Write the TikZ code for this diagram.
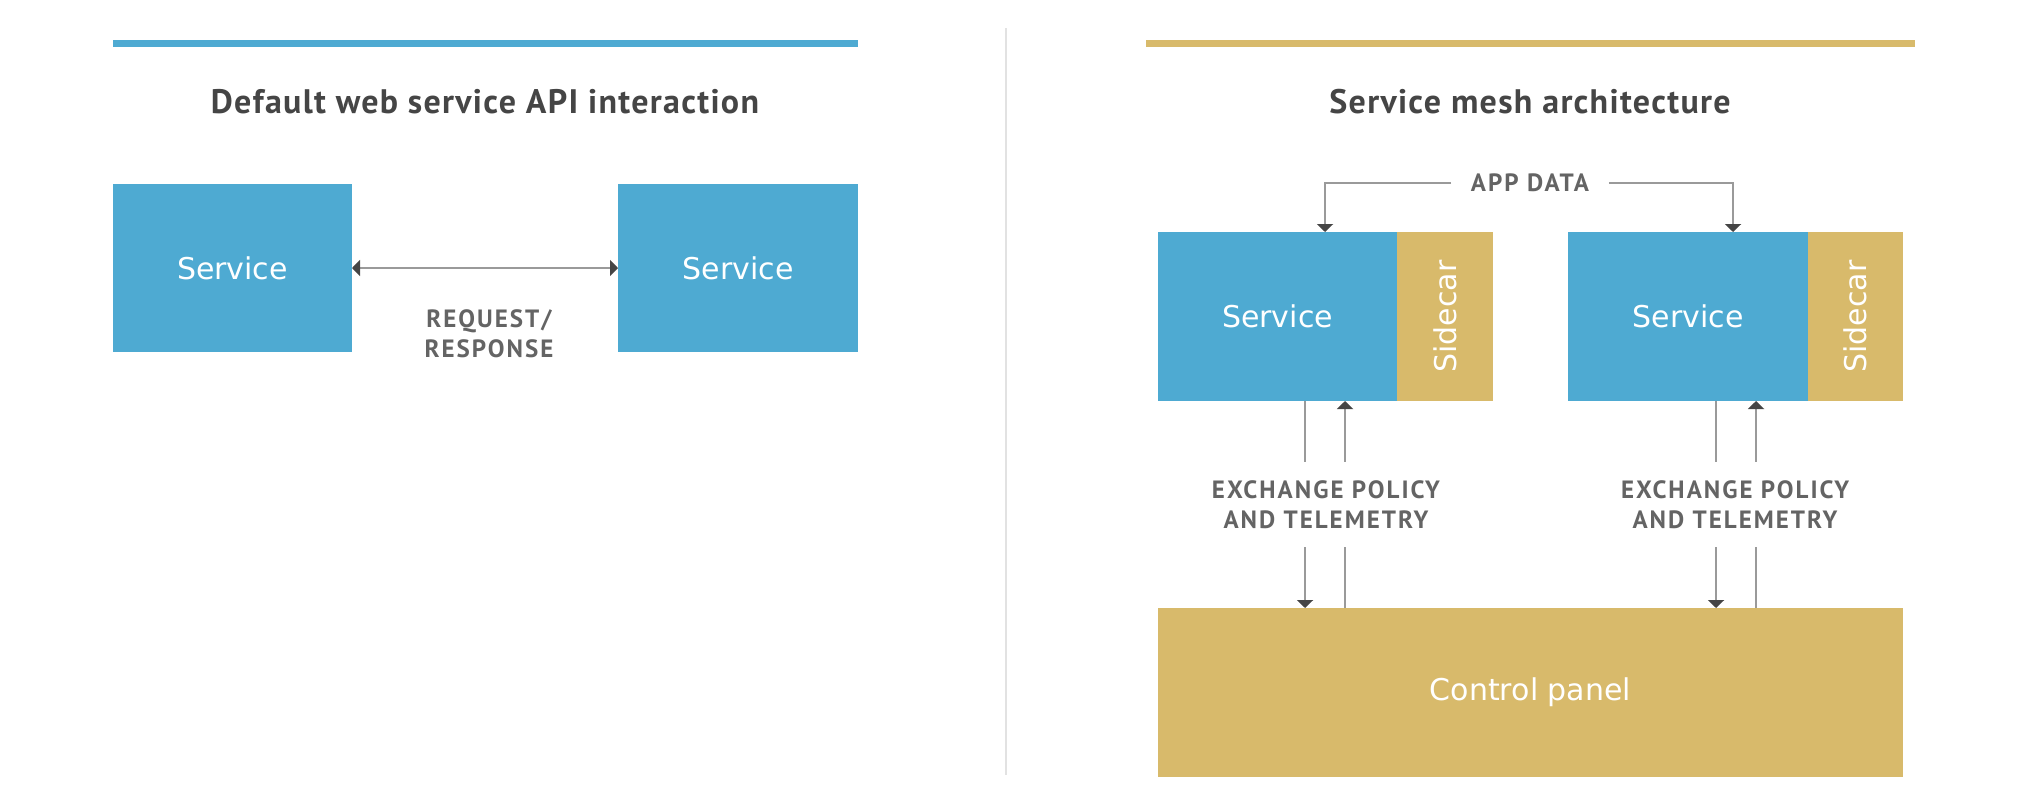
\documentclass[tikz,border=0pt]{standalone}
\usepackage{fontspec}
\usetikzlibrary{arrows.meta,calc}
\setmainfont{DejaVu Sans}
\newfontfamily\ttlfont[LetterSpace=3.8]{PT Sans}
\newfontfamily\lblfont[LetterSpace=8]{PT Sans}
\newfontfamily\boxfont{DejaVu Sans}
\definecolor{svcblue}{HTML}{4EAAD2}
\definecolor{gold}{HTML}{D8BA6B}
\definecolor{ttlgray}{HTML}{454545}
\definecolor{lblgray}{HTML}{646464}
\definecolor{linegray}{HTML}{9A9A9A}
\definecolor{tipgray}{HTML}{454545}
\definecolor{divgray}{HTML}{E2E2E2}
\tikzset{
  svc/.style={fill=svcblue, text=white, inner sep=0pt, outer sep=0pt,
    font=\boxfont\fontsize{15pt}{18pt}\selectfont},
  side/.style={fill=gold, text=white, inner sep=0pt, outer sep=0pt,
    font=\boxfont\fontsize{15pt}{18pt}\selectfont},
  ttl/.style={text=ttlgray, font=\ttlfont\bfseries\fontsize{17pt}{20pt}\selectfont},
  lbl/.style={text=lblgray, align=center, inner sep=0pt,
    font=\lblfont\bfseries\fontsize{12.5pt}{15pt}\selectfont},
  conn/.style={draw=linegray, line width=1pt},
  tip/.style={-{Triangle[length=4pt,width=8pt,color=tipgray]}},
  both/.style={{Triangle[length=4pt,width=8pt,color=tipgray]}-{Triangle[length=4pt,width=8pt,color=tipgray]}},
}
\begin{document}
\begin{tikzpicture}[x=0.5pt,y=-0.5pt]
\useasboundingbox (0,0) rectangle (2032,798);
% header bars and divider
\fill[svcblue] (113,40) rectangle (858,47);
\fill[gold] (1146,40) rectangle (1915,47);
\draw[divgray, line width=1pt] (1006,28) -- (1006,775);
% titles
\node[ttl] (t1) at (485,102) {Default web service API interaction};
\node[ttl] (t2) at (1530,102) {Service mesh architecture};
% left side
\node[svc, minimum width=119.5pt, minimum height=84pt] (s1) at (232.5,268) {Service};
\node[svc, minimum width=120pt, minimum height=84pt] (s2) at (738,268) {Service};
\draw[conn, both] (s1.east) -- (s2.west);
\node[lbl] (rr) at (489,334) {REQUEST/\\RESPONSE};
% right side
\node[svc, minimum width=119.5pt, minimum height=84.5pt] (r1) at (1277.5,316.5) {Service};
\node[side, minimum width=48pt, minimum height=84.5pt] (c1) at (1445,316.5) {\rotatebox{90}{Sidecar}};
\node[svc, minimum width=120pt, minimum height=84.5pt] (r2) at (1688,316.5) {Service};
\node[side, minimum width=47.5pt, minimum height=84.5pt] (c2) at (1855.5,316.5) {\rotatebox{90}{Sidecar}};
\node[side, minimum width=372.5pt, minimum height=84.5pt] (cp) at (1530.5,692.5) {Control panel};
% app data
\node[lbl, minimum width=78.5pt] (app) at (1530,183) {APP DATA};
\coordinate (ax1) at (1325,0);
\coordinate (ax2) at (1733,0);
\draw[conn, tip] (app.west) -| (r1.north -| ax1);
\draw[conn, tip] (app.east) -| (r2.north -| ax2);
% exchange labels
\node[lbl, minimum height=42.5pt] (e1) at (1326,504.5) {EXCHANGE POLICY\\AND TELEMETRY};
\node[lbl, minimum height=42.5pt] (e2) at (1735,504.5) {EXCHANGE POLICY\\AND TELEMETRY};
\coordinate (l1) at (1305,0);
\coordinate (u1) at (1345,0);
\coordinate (l2) at (1716,0);
\coordinate (u2) at (1756,0);
\draw[conn] (r1.south -| l1) -- (e1.north -| l1);
\draw[conn, tip] (e1.south -| l1) -- (cp.north -| l1);
\draw[conn] (cp.north -| u1) -- (e1.south -| u1);
\draw[conn, tip] (e1.north -| u1) -- (r1.south -| u1);
\draw[conn] (r2.south -| l2) -- (e2.north -| l2);
\draw[conn, tip] (e2.south -| l2) -- (cp.north -| l2);
\draw[conn] (cp.north -| u2) -- (e2.south -| u2);
\draw[conn, tip] (e2.north -| u2) -- (r2.south -| u2);
\end{tikzpicture}
\end{document}
